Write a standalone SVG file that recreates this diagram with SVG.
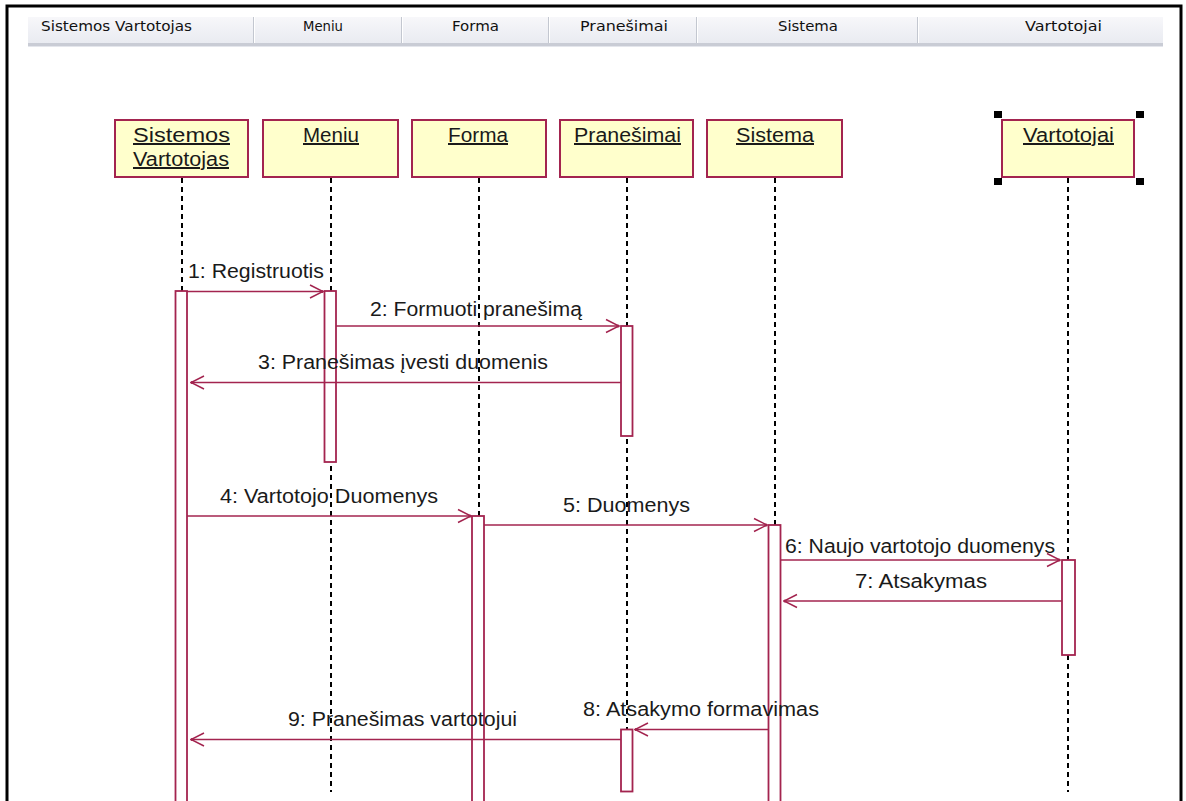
<svg xmlns="http://www.w3.org/2000/svg" width="1186" height="801" viewBox="0 0 1186 801">
  <defs>
    <linearGradient id="hdrGrad" x1="0" y1="0" x2="0" y2="1">
      <stop offset="0" stop-color="#f7f7fa"/>
      <stop offset="1" stop-color="#e9ebf1"/>
    </linearGradient>
    <marker id="open" markerUnits="userSpaceOnUse" markerWidth="16" markerHeight="16" viewBox="-15 -8 16 16" refX="0" refY="0" orient="auto">
      <path d="M -13 -6.5 L 0 0 L -13 6.5" fill="none" stroke="#a3244f" stroke-width="1.5"/>
      <circle cx="-1" cy="0" r="1.6" fill="#a3244f"/>
    </marker>
  </defs>
  <style>
    .hdr { font-family: "DejaVu Sans", "Liberation Sans", sans-serif; font-size: 13.5px; fill: #111; }
    .sep { stroke: #c3c7d0; stroke-width: 1; }
    .seph { stroke: #ffffff; stroke-width: 1; }
    .obj { fill: #ffffcc; stroke: #a3244f; stroke-width: 2; }
    .objtxt { font-family: "Liberation Sans", Arial, sans-serif; font-size: 20px; fill: #1a1a1a; text-decoration: underline; }
    .life { stroke: #000; stroke-width: 2; stroke-dasharray: 5 4; fill: none; }
    .act { fill: #ffffff; stroke: #a3244f; stroke-width: 1.8; }
    .msg { stroke: #a3244f; stroke-width: 1.6; fill: none; marker-end: url(#open); }
    .lbl { font-family: "Liberation Sans", Arial, sans-serif; font-size: 20px; fill: #1a1a1a; }
    .handle { fill: #000; }
  </style>

  <rect x="0" y="0" width="1186" height="801" fill="#ffffff"/>

  <!-- outer frame (open at the bottom) -->
  <path d="M 7 801 L 7 6 L 1181 6 L 1181 801" fill="none" stroke="#000" stroke-width="3"/>

  <!-- column header bar -->
  <g id="header">
    <rect x="28" y="17" width="1135" height="26" fill="url(#hdrGrad)"/>
    <rect x="28" y="43" width="1135" height="3" fill="#c9ccd5"/>
    <line x1="28" y1="46.5" x2="1163" y2="46.5" stroke="#e4e6ec" stroke-width="1"/>
    <line class="sep" x1="253.5" y1="17" x2="253.5" y2="43"/>
    <line class="seph" x1="254.5" y1="17" x2="254.5" y2="43"/>
    <line class="sep" x1="401.5" y1="17" x2="401.5" y2="43"/>
    <line class="seph" x1="402.5" y1="17" x2="402.5" y2="43"/>
    <line class="sep" x1="548.5" y1="17" x2="548.5" y2="43"/>
    <line class="seph" x1="549.5" y1="17" x2="549.5" y2="43"/>
    <line class="sep" x1="696.5" y1="17" x2="696.5" y2="43"/>
    <line class="seph" x1="697.5" y1="17" x2="697.5" y2="43"/>
    <line class="sep" x1="917.5" y1="17" x2="917.5" y2="43"/>
    <line class="seph" x1="918.5" y1="17" x2="918.5" y2="43"/>
    <text class="hdr" x="41" y="31" textLength="151" lengthAdjust="spacingAndGlyphs">Sistemos Vartotojas</text>
    <text class="hdr" x="303" y="31" textLength="40" lengthAdjust="spacingAndGlyphs">Meniu</text>
    <text class="hdr" x="452" y="31" textLength="47" lengthAdjust="spacingAndGlyphs">Forma</text>
    <text class="hdr" x="580" y="31" textLength="88" lengthAdjust="spacingAndGlyphs">Pranešimai</text>
    <text class="hdr" x="778" y="31" textLength="60" lengthAdjust="spacingAndGlyphs">Sistema</text>
    <text class="hdr" x="1025" y="31" textLength="77" lengthAdjust="spacingAndGlyphs">Vartotojai</text>
  </g>

  <!-- lifelines -->
  <g id="lifelines">
    <line class="life" x1="182" y1="178" x2="182" y2="801"/>
    <line class="life" x1="331" y1="178" x2="331" y2="792"/>
    <line class="life" x1="479" y1="178" x2="479" y2="801"/>
    <line class="life" x1="627" y1="178" x2="627" y2="792"/>
    <line class="life" x1="775" y1="178" x2="775" y2="801"/>
    <line class="life" x1="1068" y1="178" x2="1068" y2="792"/>
  </g>

  <!-- objects -->
  <g id="obj-sistemos-vartotojas">
    <rect class="obj" x="115" y="120" width="133" height="57"/>
    <text class="objtxt" x="133" y="142" textLength="97" lengthAdjust="spacingAndGlyphs">Sistemos </text>
    <text class="objtxt" x="133" y="166" textLength="96" lengthAdjust="spacingAndGlyphs">Vartotojas</text>
  </g>
  <g id="obj-meniu">
    <rect class="obj" x="263" y="120" width="135" height="57"/>
    <text class="objtxt" x="303" y="142" textLength="56" lengthAdjust="spacingAndGlyphs">Meniu</text>
  </g>
  <g id="obj-forma">
    <rect class="obj" x="412" y="120" width="134" height="57"/>
    <text class="objtxt" x="448" y="142" textLength="60" lengthAdjust="spacingAndGlyphs">Forma</text>
  </g>
  <g id="obj-pranesimai">
    <rect class="obj" x="560" y="120" width="133" height="57"/>
    <text class="objtxt" x="574" y="142" textLength="107" lengthAdjust="spacingAndGlyphs">Pranešimai</text>
  </g>
  <g id="obj-sistema">
    <rect class="obj" x="707" y="120" width="135" height="57"/>
    <text class="objtxt" x="736" y="142" textLength="78" lengthAdjust="spacingAndGlyphs">Sistema</text>
  </g>
  <g id="obj-vartotojai">
    <rect class="obj" x="1002" y="120" width="132" height="57"/>
    <text class="objtxt" x="1023" y="142" textLength="91" lengthAdjust="spacingAndGlyphs">Vartotojai</text>
    <rect class="handle" x="994" y="111" width="8" height="7"/>
    <rect class="handle" x="1136" y="111" width="8" height="7"/>
    <rect class="handle" x="994" y="178" width="8" height="7"/>
    <rect class="handle" x="1136" y="178" width="8" height="7"/>
  </g>

  <!-- activation bars -->
  <g id="activations">
    <rect class="act" x="175.5" y="291" width="11.5" height="515"/>
    <rect class="act" x="324.5" y="291" width="11.5" height="171"/>
    <rect class="act" x="621" y="326" width="11.5" height="110"/>
    <rect class="act" x="472" y="516" width="12" height="290"/>
    <rect class="act" x="768.5" y="525" width="12" height="281"/>
    <rect class="act" x="1062" y="560" width="13" height="95"/>
    <rect class="act" x="621" y="729.5" width="11.5" height="62"/>
  </g>

  <!-- messages -->
  <g id="connectors">
    <line class="msg" x1="187" y1="291.5" x2="323" y2="291.5"/>
    <line class="msg" x1="336" y1="326" x2="619" y2="326"/>
    <line class="msg" x1="621" y1="382.5" x2="191" y2="382.5"/>
    <line class="msg" x1="187" y1="516" x2="471" y2="516"/>
    <line class="msg" x1="484" y1="525" x2="767" y2="525"/>
    <line class="msg" x1="781" y1="560" x2="1060" y2="560"/>
    <line class="msg" x1="1062" y1="601" x2="784" y2="601"/>
    <line class="msg" x1="768.5" y1="729.5" x2="635" y2="729.5"/>
    <line class="msg" x1="621" y1="739.5" x2="191" y2="739.5"/>
  </g>

  <!-- message labels -->
  <g id="labels">
    <text class="lbl" x="188" y="278" textLength="136" lengthAdjust="spacingAndGlyphs">1: Registruotis</text>
    <text class="lbl" x="370" y="316" textLength="212" lengthAdjust="spacingAndGlyphs">2: Formuoti pranešimą</text>
    <text class="lbl" x="258" y="369" textLength="290" lengthAdjust="spacingAndGlyphs">3: Pranešimas įvesti duomenis</text>
    <text class="lbl" x="220" y="503" textLength="218" lengthAdjust="spacingAndGlyphs">4: Vartotojo Duomenys</text>
    <text class="lbl" x="563" y="512" textLength="127" lengthAdjust="spacingAndGlyphs">5: Duomenys</text>
    <text class="lbl" x="785" y="553" textLength="270" lengthAdjust="spacingAndGlyphs">6: Naujo vartotojo duomenys</text>
    <text class="lbl" x="855" y="588" textLength="132" lengthAdjust="spacingAndGlyphs">7: Atsakymas</text>
    <text class="lbl" x="583" y="716" textLength="236" lengthAdjust="spacingAndGlyphs">8: Atsakymo formavimas</text>
    <text class="lbl" x="288" y="726" textLength="229" lengthAdjust="spacingAndGlyphs">9: Pranešimas vartotojui</text>
  </g>
</svg>
